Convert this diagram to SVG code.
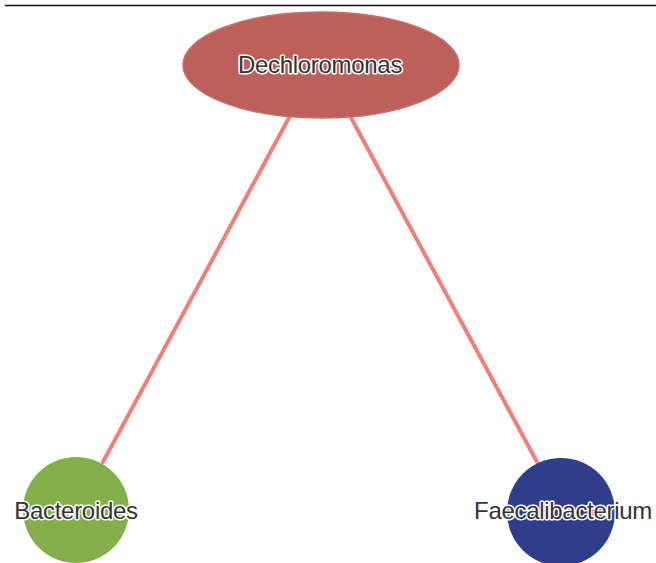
<svg xmlns="http://www.w3.org/2000/svg" width="656" height="563" viewBox="0 0 656 563">
<style>
.edge{stroke:#f07f7a;stroke-width:4;fill:none;stroke-linecap:round}
.lbl{font-family:"Liberation Sans",Arial,sans-serif;font-size:24px;fill:#333;text-anchor:middle;dominant-baseline:central;stroke:#fff;stroke-width:3;paint-order:stroke;stroke-linejoin:round;letter-spacing:-0.3px}
</style>
<rect width="656" height="563" fill="#fff"/>
<line x1="5" y1="5.5" x2="656" y2="5.5" stroke="#111" stroke-width="1.6"/>
<g id="connectors">
<line class="edge" x1="291" y1="114" x2="103" y2="462"/>
<line class="edge" x1="349" y1="114" x2="537" y2="462"/>
</g>
<g id="Dechloromonas">
<ellipse cx="321" cy="65" rx="138" ry="53" fill="#bd5f5b" stroke="#c96e6a" stroke-width="1.5"/>
<text class="lbl" x="320" y="64">Dechloromonas</text>
</g>
<g id="Bacteroides">
<circle cx="76" cy="510" r="53" fill="#84b04b"/>
<text class="lbl" x="76" y="510">Bacteroides</text>
</g>
<g id="Faecalibacterium">
<circle cx="561" cy="512" r="54" fill="#2f3e8c"/>
<text class="lbl" x="563" y="510">Faecalibacterium</text>
</g>
</svg>
